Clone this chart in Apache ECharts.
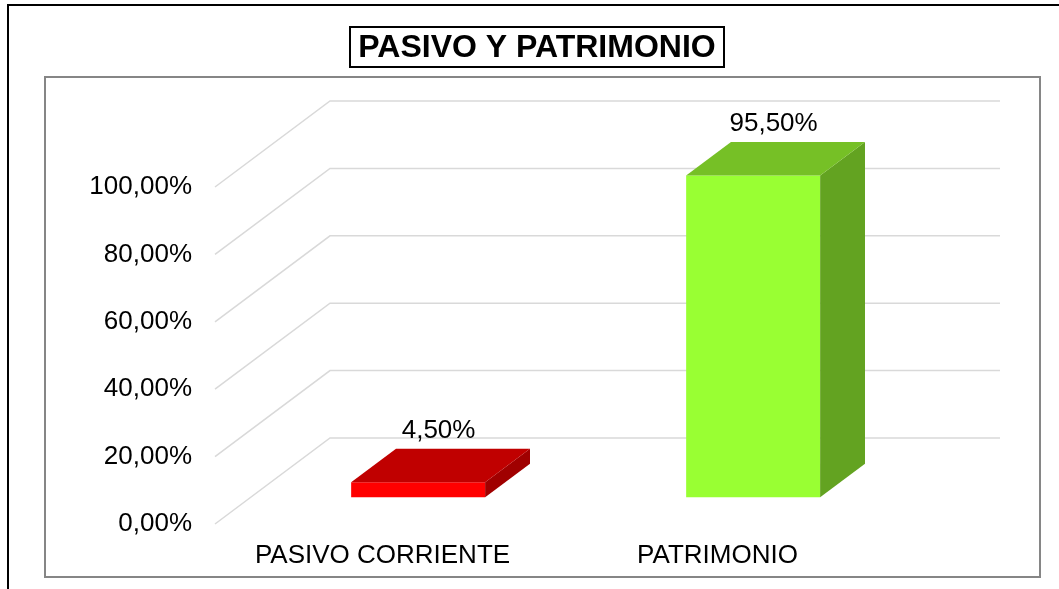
<!DOCTYPE html>
<html>
<head>
<meta charset="utf-8">
<script src="https://cdn.jsdelivr.net/npm/echarts@6/dist/echarts.min.js"></script>
<style>
  html, body { margin: 0; padding: 0; background: #fff; }
  #chart { width: 1059px; height: 589px; }
</style>
</head>
<body>
<div id="chart"></div>
<script>
const categories = ["PASIVO CORRIENTE", "PATRIMONIO"];
const values = [4.5, 95.5];
const yTicks = [0, 20, 40, 60, 80, 100];

// face colours per bar: front, top, side
const faceColors = [
  { front: "#FF0000", top: "#C00000", side: "#A00000" },
  { front: "#99FF33", top: "#76C026", side: "#63A321" },
];

const FONT = "'Liberation Sans', Arial, sans-serif";
const DEPTH = [115, -86];   // oblique offset from the front plane to the back wall
const FRONT_AT = 0.31;      // where the bar's front face sits in the depth
const BAR_DEPTH = 0.39;     // bar thickness as a share of the depth
const BAR_RATIO = 0.4;

const chart = echarts.init(document.getElementById("chart"));

function pct(v) {
  return v.toFixed(2).replace(".", ",") + "%";
}

function renderGrid(params, api) {
  const cs = params.coordSys;
  const y = api.coord([0, api.value(0)])[1];
  const x0 = cs.x;
  const x1 = cs.x + cs.width;
  return {
    type: "polyline",
    shape: { points: [[x0, y], [x0 + DEPTH[0], y + DEPTH[1]], [x1 + DEPTH[0], y + DEPTH[1]]] },
    style: { stroke: "#D9D9D9", lineWidth: 1.5, fill: null },
  };
}

function renderBar(params, api) {
  const i = api.value(0);
  const v = api.value(1);
  const top = api.coord([i, v]);
  const base = api.coord([i, 0]);
  const w = api.size([1, 0])[0] * BAR_RATIO;
  const ox = DEPTH[0] * FRONT_AT, oy = DEPTH[1] * FRONT_AT;
  const dx = DEPTH[0] * BAR_DEPTH, dy = DEPTH[1] * BAR_DEPTH;
  const x0 = top[0] - w / 2 + ox, x1 = top[0] + w / 2 + ox;
  const yt = top[1] + oy, yb = base[1] + oy;
  const c = faceColors[i];
  return {
    type: "group",
    children: [
      { type: "polygon", shape: { points: [[x0, yb], [x1, yb], [x1, yt], [x0, yt]] }, style: { fill: c.front } },
      { type: "polygon", shape: { points: [[x1, yb], [x1 + dx, yb + dy], [x1 + dx, yt + dy], [x1, yt]] }, style: { fill: c.side } },
      { type: "polygon", shape: { points: [[x0, yt], [x1, yt], [x1 + dx, yt + dy], [x0 + dx, yt + dy]] }, style: { fill: c.top } },
      {
        type: "text",
        style: {
          x: top[0] + ox + dx / 2 - 2, y: yt + dy - 5,
          text: pct(v), fill: "#000", font: "26px " + FONT,
          textAlign: "center", textVerticalAlign: "bottom",
        },
      },
    ],
  };
}

chart.setOption({
  backgroundColor: "#fff",
  animation: false,
  graphic: [
    { type: "rect", shape: { x: 8, y: 5, width: 1080, height: 620 }, style: { fill: null, stroke: "#000", lineWidth: 2 } },
    { type: "rect", shape: { x: 45, y: 77, width: 995, height: 500 }, style: { fill: null, stroke: "#868686", lineWidth: 2 } },
    { type: "rect", shape: { x: 350, y: 27, width: 374, height: 40 }, style: { fill: "#fff", stroke: "#000", lineWidth: 2 } },
    {
      type: "text", x: 537, y: 48,
      style: { text: "PASIVO Y PATRIMONIO", font: "bold 32px " + FONT, fill: "#000", textAlign: "center", textVerticalAlign: "middle" },
    },
  ],
  grid: { left: 215, top: 187, width: 670, height: 337 },
  xAxis: {
    type: "category",
    data: categories,
    axisLine: { show: false },
    axisTick: { show: false },
    axisLabel: { color: "#000", fontFamily: FONT, fontSize: 26, margin: 19 },
  },
  yAxis: {
    type: "value",
    min: 0, max: 100, interval: 20,
    axisLine: { show: false },
    axisTick: { show: false },
    splitLine: { show: false },
    axisLabel: { color: "#000", fontFamily: FONT, fontSize: 26, margin: 23, padding: [4, 0, 0, 0], formatter: v => pct(v) },
  },
  series: [
    {
      type: "custom",
      renderItem: renderGrid,
      data: yTicks.map(t => [t]),
      encode: { y: 0 },
      clip: false,
      silent: true,
      z: 1,
    },
    {
      type: "custom",
      renderItem: renderBar,
      data: values.map((v, i) => [i, v]),
      encode: { x: 0, y: 1 },
      clip: false,
      z: 2,
    },
  ],
});
</script>
</body>
</html>
